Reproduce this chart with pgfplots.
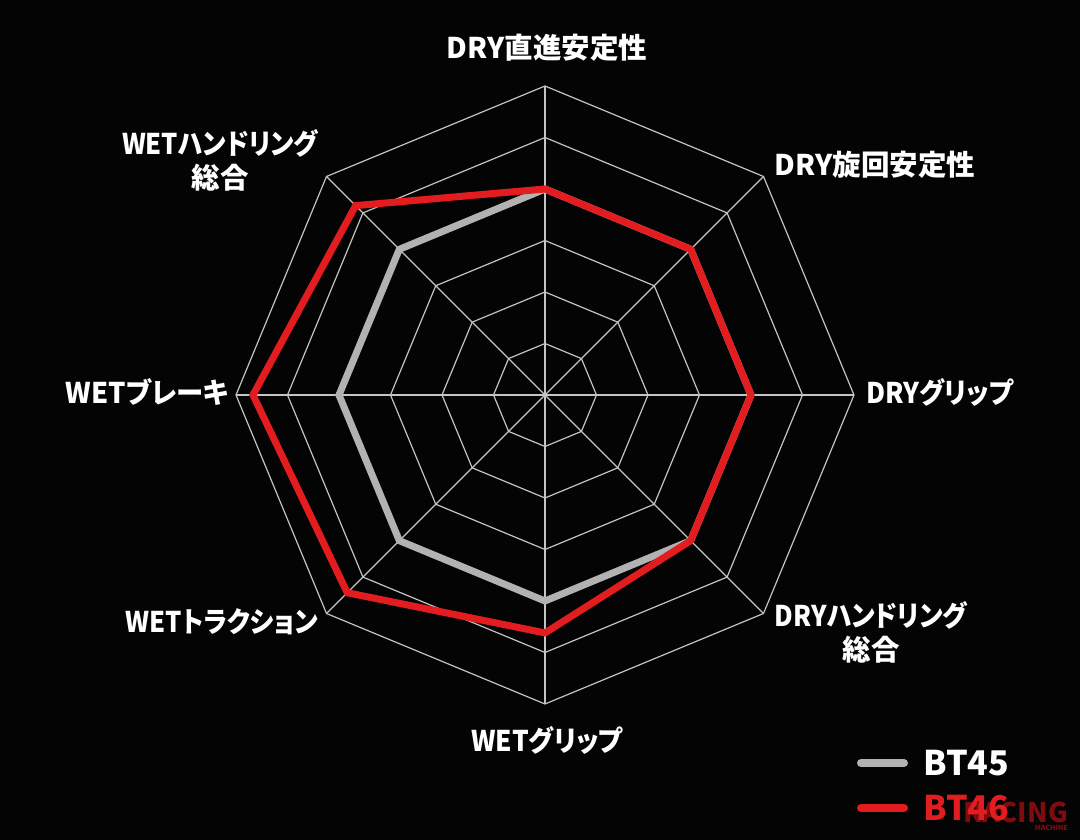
\documentclass[border=0pt]{standalone}
\usepackage{pgfplots}
\pgfplotsset{compat=1.18}
\usepgfplotslibrary{polar}
\usepackage{graphicx}
\usepackage{fontspec}
\setmainfont{Noto Sans CJK JP}[RawFeature=+palt]
\definecolor{bg}{HTML}{040404}
\definecolor{gridc}{HTML}{C4C4C4}
\definecolor{grayser}{HTML}{B2B2B2}
\definecolor{redser}{HTML}{E31C1F}
\definecolor{wm}{HTML}{7E0B0E}
\begin{document}
\begin{tikzpicture}[x=1pt,y=1pt]
\path[use as bounding box] (0,0) rectangle (1080,840);
\fill[bg] (0,0) rectangle (1080,840);
\begin{polaraxis}[
  at={(545pt,445pt)}, anchor=center,
  width=618pt, height=618pt, scale only axis,
  xmin=0, xmax=360, ymin=0, ymax=6,
  axis line style={draw=none},
  xtick=\empty, ytick=\empty,
  clip=false,
]
% rings
\foreach \r in {1,...,6}{
  \addplot[gridc, line width=1.2pt, mark=none] coordinates {(0,\r) (45,\r) (90,\r) (135,\r) (180,\r) (225,\r) (270,\r) (315,\r)} -- cycle;
}
% spokes
\addplot[gridc, line width=1.2pt, mark=none] coordinates {(0,6) (180,6)};
\addplot[gridc, line width=1.2pt, mark=none] coordinates {(45,6) (225,6)};
\addplot[gridc, line width=1.2pt, mark=none] coordinates {(90,6) (270,6)};
\addplot[gridc, line width=1.2pt, mark=none] coordinates {(135,6) (315,6)};
% BT45
\addplot[grayser, line width=7pt, line join=miter, mark=none] coordinates {
 (90,4) (45,4) (0,4) (315,4) (270,4) (225,4) (180,4) (135,4)} -- cycle;
% BT46
\addplot[redser, line width=7pt, line join=miter, mark=none] coordinates {
 (90,4) (45,4) (0,4) (315,4) (270,4.62) (225,5.43) (180,5.67) (135,5.2)} -- cycle;
\end{polaraxis}
\bfseries
\fontsize{28.5}{34}\selectfont
\node[white] at (547,792) {DRY直進安定性};
\node[white] at (875,675) {DRY旋回安定性};
\node[white] at (940,448) {\scalebox{0.92}[1]{DRYグリップ}};
\node[white, align=center] at (871,208) {\scalebox{0.9}[1]{DRYハンドリング}\\総合};
\node[white] at (547,100) {\scalebox{0.92}[1]{WETグリップ}};
\node[white] at (222,218) {\scalebox{0.9}[1]{WETトラクション}};
\node[white] at (147,448) {\scalebox{0.96}[1]{WETブレーキ}};
\node[white, align=center] at (220,680) {\scalebox{0.895}[1]{WETハンドリング}\\総合};
% legend
\draw[grayser, line width=8pt, line cap=round] (861,77) -- (904,77);
\draw[redser, line width=8pt, line cap=round] (861,32) -- (904,32);
{\fontsize{27}{30}\selectfont\node[wm, anchor=east, inner sep=0pt] at (1068,28) {RACING};}
{\fontsize{7}{8}\selectfont\node[wm, anchor=east, inner sep=0pt] at (1068,12) {MACHINE};}
{\fontsize{34}{38}\selectfont
\node[white, anchor=west] at (912,77) {BT45};
\node[redser, anchor=west] at (912,32) {BT46};}
\end{tikzpicture}
\end{document}
